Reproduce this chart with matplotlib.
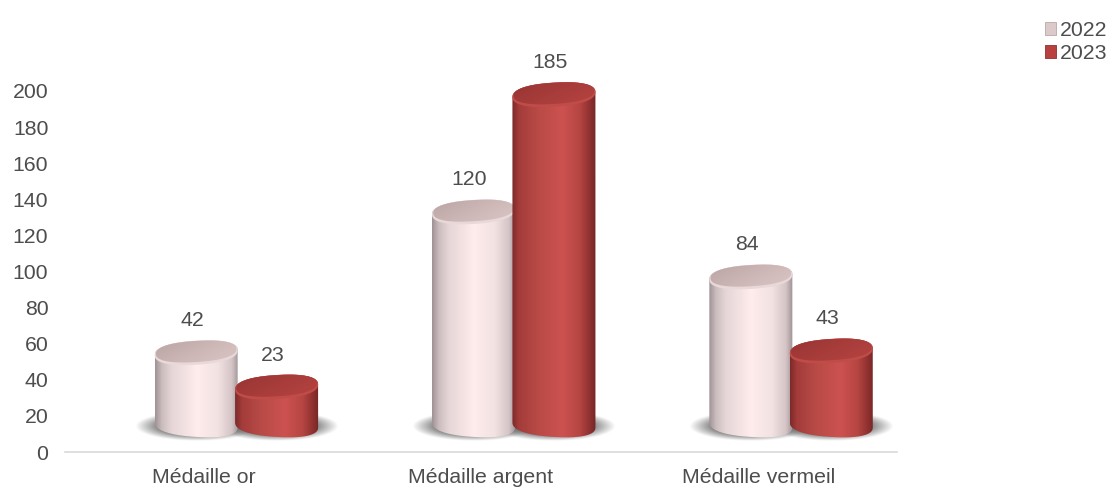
import numpy as np
import matplotlib
matplotlib.use('Agg')
import matplotlib.pyplot as plt
from matplotlib.colors import LinearSegmentedColormap
from matplotlib.patches import Patch, PathPatch
from matplotlib.path import Path

plt.rcParams['font.family'] = ['Liberation Sans', 'DejaVu Sans']

categories = ['Médaille or', 'Médaille argent', 'Médaille vermeil']
values_2022 = [42, 120, 84]
values_2023 = [23, 185, 43]
series_names = ['2022', '2023']
y_ticks = [0, 20, 40, 60, 80, 100, 120, 140, 160, 180, 200]

W, H = 1107, 488
PX_X = 277.3           # pixels per category
PX_Y = 1.805           # pixels per y unit
TEXT = '#4d4d4d'
FONT = 15.3

body_2022 = [(0, '#9f9396'), (.08, '#cbbcbe'), (.2, '#e6d6d7'), (.5, '#ffecec'),
             (.75, '#f2e2e2'), (.92, '#d4c4c6'), (1, '#9e9295')]
top_2022 = ['#b9a2a2', '#cdb6b6', '#dcc8c8']
rim_2022 = '#e8d8d8'
body_2023 = [(0, '#7d2a2a'), (.08, '#a33c3a'), (.3, '#b84a46'), (.6, '#cc5250'),
             (.8, '#b74643'), (.93, '#8f3130'), (1, '#742626')]
top_2023 = ['#963433', '#a83d3b', '#b84442']
rim_2023 = '#c04c48'

# 3D look of the original: cylinders sit above the axis and are shifted right
HALF_W = 41.5 / PX_X
HALF_H = 12 / PX_Y
TILT = 2.5 / PX_Y
BASE = 15
TOP_OFFSET = 13
OFFSET_2022 = -0.027
OFFSET_2023 = 0.263


def arc(cx, cy, hw, hh, tilt, t0, t1, n=80):
    # slightly squarish ellipse, the lids of the original are rather full
    t = np.linspace(t0, t1, n)
    c = np.sign(np.cos(t)) * np.abs(np.cos(t)) ** 0.85
    s = np.sign(np.sin(t)) * np.abs(np.sin(t)) ** 0.85
    return np.column_stack([cx + hw * c, cy + hh * s + tilt * c])


def clipped_gradient(ax, img, cmap, extent, verts, zorder):
    im = ax.imshow(img, cmap=cmap, extent=extent, aspect='auto', zorder=zorder,
                   vmin=0, vmax=1, interpolation='bilinear', origin='lower')
    patch = PathPatch(Path(np.vstack([verts, verts[0]])), transform=ax.transData,
                      facecolor='none', edgecolor='none')
    ax.add_patch(patch)
    im.set_clip_path(patch)


def draw_shadow(ax, cx, zorder):
    hw, hh = HALF_W + 20 / PX_X, 15 / PX_Y
    yc = BASE - 0.5
    xs, ys = np.meshgrid(np.linspace(-1, 1, 120), np.linspace(-1, 1, 60))
    r = np.sqrt(xs ** 2 + ys ** 2)
    rgba = np.zeros((60, 120, 4))
    rgba[..., :3] = 0.42
    rgba[..., 3] = 0.9 * np.clip((1 - r) / 0.4, 0, 1)
    ax.imshow(rgba, extent=(cx - hw, cx + hw, yc - hh, yc + hh), aspect='auto',
              zorder=zorder, interpolation='bilinear', origin='lower')


def draw_cylinder(ax, cx, value, body, top_cols, rim, zorder):
    top = value + TOP_OFFSET
    lower = arc(cx, BASE, HALF_W, -HALF_H, -TILT, np.pi, 0)
    upper = arc(cx, top, HALF_W, HALF_H, TILT, 0, np.pi)
    extent = (cx - HALF_W, cx + HALF_W, BASE - 2 * HALF_H, top + 2 * HALF_H)

    cmap = LinearSegmentedColormap.from_list('body', body)
    clipped_gradient(ax, np.linspace(0, 1, 300).reshape(1, -1), cmap, extent,
                     np.vstack([lower, upper]), zorder)

    # lid: a light rim with a slightly smaller darker ellipse on it
    rim_verts = arc(cx, top, HALF_W, HALF_H, TILT, 0, 2 * np.pi)
    ax.add_patch(PathPatch(Path(rim_verts), facecolor=rim, edgecolor='none', zorder=zorder + 0.1))
    lid = arc(cx, top + 0.7, HALF_W * 0.97, HALF_H * 0.88, TILT * 0.97, 0, 2 * np.pi)
    cmap_top = LinearSegmentedColormap.from_list('lid', top_cols)
    gx, gy = np.meshgrid(np.linspace(0, 1, 60), np.linspace(0, 1, 30))
    clipped_gradient(ax, 0.6 * gx + 0.4 * (1 - gy), cmap_top,
                     (cx - HALF_W, cx + HALF_W, top - 1.2 * HALF_H, top + 1.2 * HALF_H),
                     lid, zorder + 0.2)


fig = plt.figure(figsize=(W / 100, H / 100), dpi=100)
ax = fig.add_axes([65 / W, (H - 452) / H, (897 - 65) / W, 452 / H])
ax.patch.set_alpha(0)

x = np.arange(len(categories))
for i in x:
    draw_shadow(ax, i + OFFSET_2022, 1)
    draw_shadow(ax, i + OFFSET_2023, 1)

for i in x:
    draw_cylinder(ax, i + OFFSET_2022, values_2022[i], body_2022, top_2022, rim_2022, 2)
    draw_cylinder(ax, i + OFFSET_2023, values_2023[i], body_2023, top_2023, rim_2023, 3)
    for off, val in ((OFFSET_2022, values_2022[i]), (OFFSET_2023, values_2023[i])):
        ax.annotate(str(val), (i + off, val + TOP_OFFSET), xytext=(-3, 23),
                    textcoords='offset points', ha='center', va='center',
                    fontsize=FONT, color=TEXT, zorder=5)

ax.set_xlim(-0.5, 2.5)
ax.set_ylim(0, 452 / PX_Y)
ax.set_xticks(x)
ax.set_xticklabels(categories)
ax.set_yticks(y_ticks)
ax.tick_params(axis='both', length=0, labelsize=FONT, labelcolor=TEXT)
ax.tick_params(axis='x', pad=11.5)
ax.tick_params(axis='y', pad=12)
for name in ('top', 'left', 'right'):
    ax.spines[name].set_visible(False)
ax.spines['bottom'].set_color('#d9d9d9')
ax.spines['bottom'].set_linewidth(1.2)

handles = [Patch(facecolor='#dccaca', edgecolor='#b9a9a9', linewidth=0.6, label=series_names[0]),
           Patch(facecolor='#b8403e', edgecolor='#8e3030', linewidth=0.6, label=series_names[1])]
fig.legend(handles=handles, loc='upper right', bbox_to_anchor=(1107 / W, 1 - 21 / H),
           frameon=False, fontsize=FONT, labelcolor=TEXT, handlelength=0.55,
           handleheight=0.55, handletextpad=0.15, labelspacing=0.18,
           borderpad=0, borderaxespad=0)

fig.savefig('out.png', dpi=100)
